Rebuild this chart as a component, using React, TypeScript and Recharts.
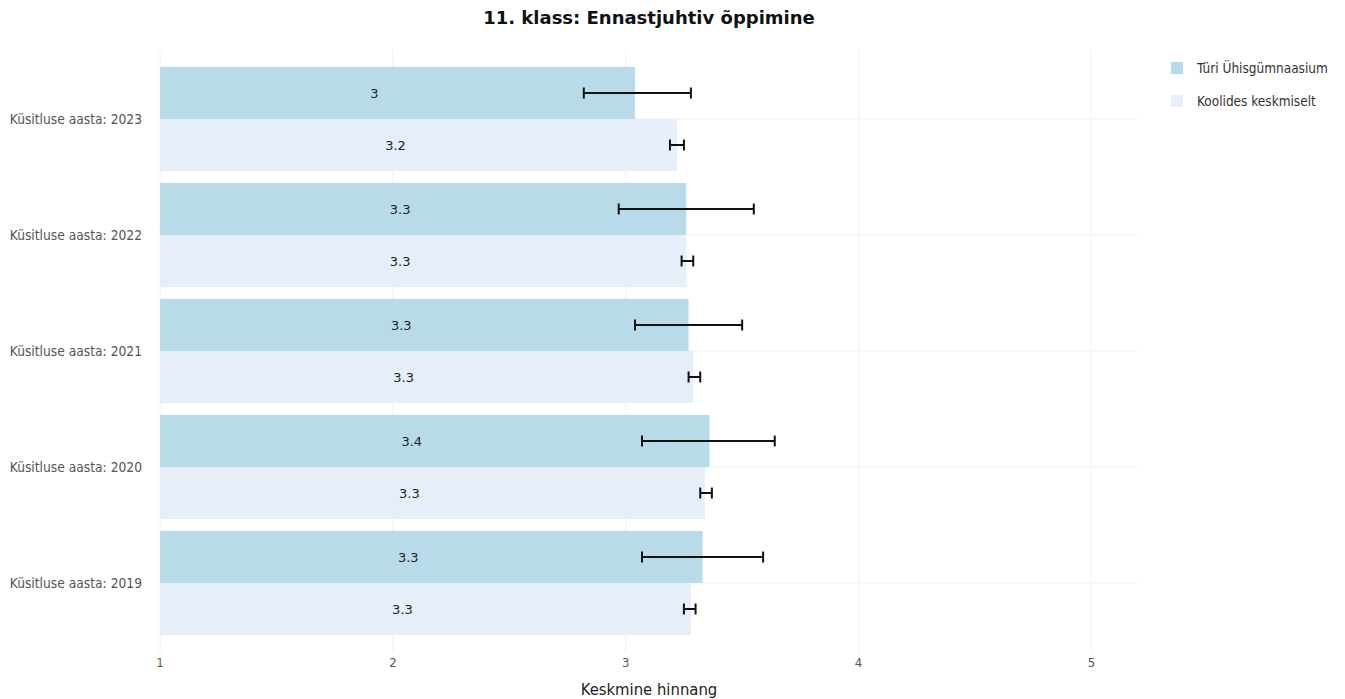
import {
  Bar,
  BarChart,
  CartesianGrid,
  ErrorBar,
  LabelList,
  XAxis,
  YAxis,
} from 'recharts';

const years = ['2023', '2022', '2021', '2020', '2019'];
const schoolMean = [3.04, 3.26, 3.27, 3.36, 3.33];
const schoolLow = [2.82, 2.97, 3.04, 3.07, 3.07];
const schoolHigh = [3.28, 3.55, 3.50, 3.64, 3.59];
const avgMean = [3.22, 3.26, 3.29, 3.34, 3.28];
const avgLow = [3.19, 3.24, 3.27, 3.32, 3.25];
const avgHigh = [3.25, 3.29, 3.32, 3.37, 3.30];
const xTicks = [1, 2, 3, 4, 5];
const X_MIN = 1;
const X_MAX = 5.2;
const CAT_PAD = 12;

const SCHOOL_COLOR = '#b9dae8';
const AVG_COLOR = '#e6eff9';
const narrowFont = "'DejaVu Sans Condensed', 'DejaVu Sans', sans-serif";

const data = years.map((y, i) => ({
  year: `Küsitluse aasta: ${y}`,
  school: schoolMean[i],
  schoolErr: [schoolMean[i] - schoolLow[i], schoolHigh[i] - schoolMean[i]],
  avg: avgMean[i],
  avgErr: [avgMean[i] - avgLow[i], avgHigh[i] - avgMean[i]],
}));

function ValueLabel(props: any) {
  const { x, y, width, height, value } = props;
  const text = String(Number(Number(value).toFixed(1)));
  return (
    <text
      x={x + width / 2 - 23}
      y={y + height / 2}
      textAnchor="middle"
      dominantBaseline="central"
      fill="#222"
      fontSize={13}
      fontFamily="'DejaVu Sans', sans-serif"
    >
      {text}
    </text>
  );
}

// grid only at x ticks and at category centres, no outer frame
const verticalGrid = ({ offset }: any) =>
  xTicks.map((t) => offset.left + ((t - X_MIN) / (X_MAX - X_MIN)) * offset.width);

const horizontalGrid = ({ offset }: any) => {
  const band = (offset.height - 2 * CAT_PAD) / years.length;
  return years.map((_, i) => offset.top + CAT_PAD + band * (i + 0.5));
};

const legendItems = [
  { label: 'Türi Ühisgümnaasium', color: SCHOOL_COLOR },
  { label: 'Koolides keskmiselt', color: AVG_COLOR },
];

export default function App() {
  return (
    <div style={{ position: 'absolute', left: 0, top: 0, width: 1345, height: 699, background: '#fff' }}>
      <div
        style={{
          position: 'absolute',
          top: 7,
          left: 0,
          width: 1298,
          textAlign: 'center',
          fontFamily: "'DejaVu Sans', sans-serif",
          fontWeight: 'bold',
          fontSize: 18,
          color: '#111',
        }}
      >
        11. klass: Ennastjuhtiv õppimine
      </div>
      <div style={{ position: 'absolute', left: 1171, top: 59, fontFamily: narrowFont, fontSize: 13.5, color: '#333' }}>
        {legendItems.map((it) => (
          <div key={it.label} style={{ display: 'flex', alignItems: 'center', height: 18, marginBottom: 15 }}>
            <span style={{ width: 12, height: 12, background: it.color, display: 'inline-block', marginRight: 14 }} />
            <span>{it.label}</span>
          </div>
        ))}
      </div>
      <BarChart
        width={1345}
        height={699}
        data={data}
        layout="vertical"
        margin={{ top: 49, right: 207, bottom: 0, left: 0 }}
        barCategoryGap={6}
        barGap={0}
      >
        <CartesianGrid
          stroke="#f0f0f0"
          verticalCoordinatesGenerator={verticalGrid}
          horizontalCoordinatesGenerator={horizontalGrid}
        />
        <XAxis
          type="number"
          domain={[X_MIN, X_MAX]}
          ticks={xTicks}
          axisLine={false}
          tickLine={false}
          tickSize={0}
          tickMargin={5}
          height={46}
          tick={{ fill: '#555', fontSize: 13, fontFamily: narrowFont }}
          label={{
            value: 'Keskmine hinnang',
            position: 'insideBottom',
            offset: 4,
            fill: '#222',
            fontSize: 16.5,
            fontFamily: narrowFont,
          }}
        />
        <YAxis
          type="category"
          dataKey="year"
          width={160}
          padding={{ top: CAT_PAD, bottom: CAT_PAD }}
          axisLine={false}
          tickLine={false}
          tickSize={0}
          tickMargin={18}
          tick={{ fill: '#555', fontSize: 13.7, fontFamily: narrowFont }}
        />
        <Bar dataKey="school" fill={SCHOOL_COLOR} isAnimationActive={false}>
          <LabelList dataKey="school" content={ValueLabel} />
          <ErrorBar dataKey="schoolErr" direction="x" width={5.5} stroke="#111" strokeWidth={2} />
        </Bar>
        <Bar dataKey="avg" fill={AVG_COLOR} isAnimationActive={false}>
          <LabelList dataKey="avg" content={ValueLabel} />
          <ErrorBar dataKey="avgErr" direction="x" width={5.5} stroke="#111" strokeWidth={2} />
        </Bar>
      </BarChart>
    </div>
  );
}
